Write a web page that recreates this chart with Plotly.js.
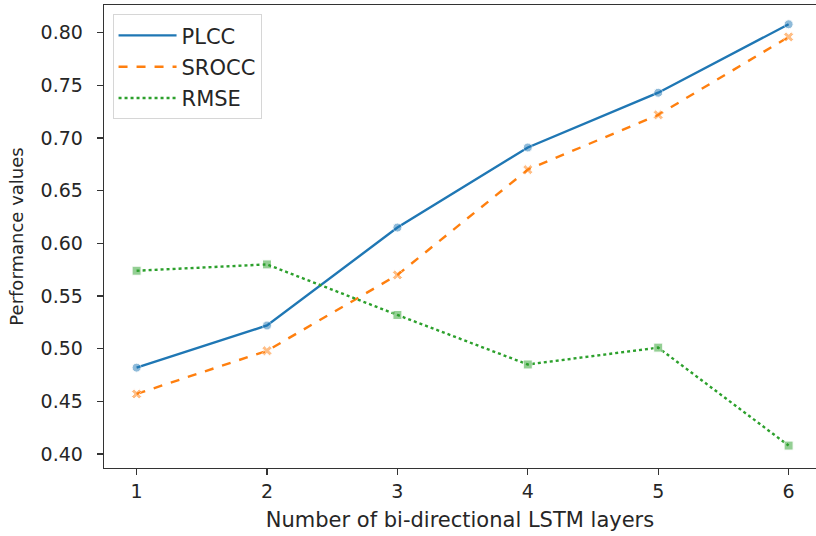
<!DOCTYPE html>
<html>
<head>
<meta charset="utf-8">
<script src="https://cdn.plot.ly/plotly-3.0.1.min.js"></script>
<style>html,body{margin:0;padding:0;background:#fff;}#chart{width:816px;height:536px;}</style>
</head>
<body>
<div id="chart"></div>
<script>
const layers = [1, 2, 3, 4, 5, 6];
const plcc = [0.482, 0.522, 0.615, 0.691, 0.743, 0.808];
const srocc = [0.457, 0.498, 0.570, 0.670, 0.722, 0.796];
const rmse = [0.574, 0.580, 0.532, 0.485, 0.501, 0.408];
const yTicks = [0.40, 0.45, 0.50, 0.55, 0.60, 0.65, 0.70, 0.75, 0.80];

const textColor = '#262626';
const tickFont = {family: 'DejaVu Sans', size: 19, color: textColor};

function lineTrace(name, y, color, dash, group) {
  return {
    x: layers, y: y, name: name, type: 'scatter', mode: 'lines',
    legendgroup: group,
    line: {color: color, width: 2.4, dash: dash}
  };
}
function markerTrace(name, y, color, symbol, group) {
  return {
    x: layers, y: y, name: name, type: 'scatter', mode: 'markers',
    legendgroup: group, showlegend: false,
    marker: {symbol: symbol, size: 9, color: color, opacity: 0.5, line: {color: '#ffffff', width: 1}}
  };
}

const data = [
  lineTrace('PLCC', plcc, '#1f77b4', 'solid', 'a'),
  lineTrace('SROCC', srocc, '#ff7f0e', 'dash', 'b'),
  lineTrace('RMSE', rmse, '#2ca02c', 'dot', 'c'),
  markerTrace('PLCC', plcc, '#1f77b4', 'circle', 'a'),
  markerTrace('SROCC', srocc, '#ff7f0e', 'x', 'b'),
  markerTrace('RMSE', rmse, '#2ca02c', 'square', 'c')
];

const layout = {
  width: 816, height: 536,
  margin: {l: 104, r: 0, t: 5, b: 68},
  paper_bgcolor: '#ffffff', plot_bgcolor: '#ffffff',
  font: tickFont,
  showlegend: true,
  legend: {
    x: 0.012, y: 0.98, xanchor: 'left', yanchor: 'top',
    bgcolor: 'rgba(255,255,255,0.9)', bordercolor: '#d6d6d6', borderwidth: 1,
    font: {family: 'DejaVu Sans', size: 21, color: textColor},
    tracegroupgap: 1,
    itemwidth: 58
  },
  xaxis: {
    range: [0.75, 6.21], tickvals: layers, ticktext: layers.map(String),
    showgrid: false, zeroline: false,
    showline: true, mirror: true, linecolor: '#333333', linewidth: 1.3,
    ticks: 'outside', ticklen: 6, tickwidth: 1.2, tickcolor: '#333333',
    tickfont: tickFont,
    title: {text: 'Number of bi-directional LSTM layers', font: {family: 'DejaVu Sans', size: 21, color: textColor}, standoff: 11}
  },
  yaxis: {
    range: [0.3867, 0.8263], tickvals: yTicks, ticktext: yTicks.map(v => v.toFixed(2)),
    showgrid: false, zeroline: false,
    showline: true, mirror: false, linecolor: '#333333', linewidth: 1.3,
    ticks: 'outside', ticklen: 6, tickwidth: 1.2, tickcolor: '#333333',
    tickfont: tickFont, ticklabelstandoff: 10,
    title: {text: 'Performance values', font: {family: 'DejaVu Sans', size: 18, color: textColor}, standoff: 12}
  }
};

Plotly.newPlot('chart', data, layout, {displayModeBar: false, staticPlot: true});
</script>
</body>
</html>
